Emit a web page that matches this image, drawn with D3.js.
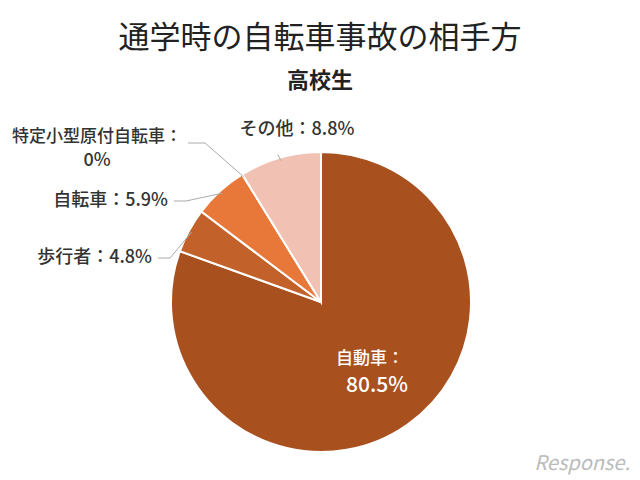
<!DOCTYPE html>
<html><head><meta charset="utf-8">
<script src="https://cdn.jsdelivr.net/npm/d3@7"></script>
<style>body{margin:0;background:#fff}</style></head>
<body><svg id="c" width="640" height="480"></svg>
<script>
const categories=["自動車","歩行者","自転車","特定小型原付自転車","その他"];
const values=[80.5,4.8,5.9,0,8.8];
const colors=["#A9501F","#C2622A","#E8773A","#F4B08A","#F1C1B3"];
const svg=d3.select("#c");
const font="'Noto Sans CJK JP',sans-serif";
svg.append("text").attr("x",320).attr("y",48).attr("text-anchor","middle").attr("font-family",font).attr("font-size",31).attr("fill","#222").text("通学時の自転車事故の相手方");
svg.append("text").attr("x",320).attr("y",88).attr("text-anchor","middle").attr("font-family",font).attr("font-weight","bold").attr("font-size",22).attr("fill","#222").text("高校生");
const cx=321,cy=302,r=150;
const pie=d3.pie().sort(null)(values);
const arc=d3.arc().innerRadius(0).outerRadius(r);
const g=svg.append("g").attr("transform",`translate(${cx},${cy})`);
g.selectAll("path").data(pie).join("path").attr("d",arc).attr("fill",(d,i)=>colors[i]).attr("stroke","#fff").attr("stroke-width",2);
svg.append("text").attr("x",370).attr("y",364).attr("text-anchor","middle").attr("font-family",font).attr("font-weight",500).attr("font-size",17).attr("fill","#fff").text(categories[0]+"：");
svg.append("text").attr("x",377).attr("y",392).attr("text-anchor","middle").attr("font-family",font).attr("font-weight",500).attr("font-size",21).attr("fill","#fff").text(values[0]+"%");
const outer=[
 {i:1,lines:[categories[1]+"："+values[1]+"%"],tx:152,ty:263,lx:158},
 {i:2,lines:[categories[2]+"："+values[2]+"%"],tx:168,ty:206,lx:174},
 {i:3,lines:[categories[3]+"：",values[3]+"%"],tx:97,ty:142,lx:185},
 {i:4,lines:[categories[4]+"："+values[4]+"%"],tx:297,ty:135,lx:275}
];
const lab=d3.arc().innerRadius(r-3).outerRadius(r-3);
outer.forEach(o=>{
  const p=lab.centroid(pie[o.i]);
  let pts;
  if(o.i===3) pts=[[cx+p[0],cy+p[1]],[205,143],[188,143]];
  else if(o.i===4) pts=[[cx+p[0],cy+p[1]],[cx+p[0]-3,cy+p[1]-6]];
  else pts=[[cx+p[0],cy+p[1]],[o.lx+12,o.ty-5],[o.lx,o.ty-5]];
  svg.append("path").attr("d",d3.line()(pts)).attr("fill","none").attr("stroke","#aaa").attr("stroke-width",1);
  o.lines.forEach((t,k)=>{
    svg.append("text").attr("x",o.tx).attr("y",o.ty+k*24)
      .attr("text-anchor",o.i>=3?"middle":"end")
      .attr("font-family",font).attr("font-weight",500).attr("font-size",k===0&&o.i===3?17:18).attr("fill","#333").text(t);
  });
});
svg.append("text").attr("x",630).attr("y",470).attr("text-anchor","end").attr("font-family",font).attr("font-style","italic").attr("font-size",20).attr("fill","#bbb").text("Response.");
</script></body></html>
